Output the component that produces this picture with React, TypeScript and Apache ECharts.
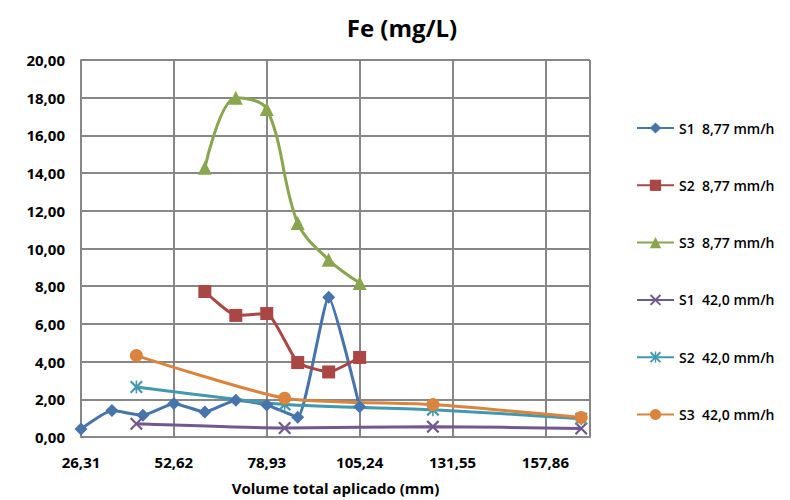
import React, { useEffect, useRef } from "react";
import * as echarts from "echarts";

const seriesNames = [
  "S1  8,77 mm/h",
  "S2  8,77 mm/h",
  "S3  8,77 mm/h",
  "S1  42,0 mm/h",
  "S2  42,0 mm/h",
  "S3  42,0 mm/h",
];

const xS1a = [26.31, 35.08, 43.85, 52.62, 61.39, 70.16, 78.93, 87.7, 96.47, 105.24];
const yS1a = [0.42, 1.4, 1.15, 1.78, 1.32, 1.95, 1.7, 1.05, 7.42, 1.6];

const xS2a = [61.39, 70.16, 78.93, 87.7, 96.47, 105.24];
const yS2a = [7.72, 6.45, 6.55, 3.95, 3.45, 4.22];

const xS3a = [61.39, 70.16, 78.93, 87.7, 96.47, 105.24];
const yS3a = [14.28, 18.0, 17.4, 11.35, 9.4, 8.17];

const x42 = [42, 84, 126, 168];
const yS1b = [0.7, 0.48, 0.55, 0.45];
const yS2b = [2.65, 1.72, 1.45, 0.97];
const yS3b = [4.32, 2.06, 1.72, 1.04];

const xTickMin = 26.31;
const xTickStep = 26.31;

const colors = ["#4674AB", "#AA4643", "#89A54E", "#71588F", "#4198AF", "#DB843D"];

const X_PATH =
  "path://M0,1.2 L1.2,0 L5,3.8 L8.8,0 L10,1.2 L6.2,5 L10,8.8 L8.8,10 L5,6.2 L1.2,10 L0,8.8 L3.8,5 Z";
const STAR_PATH =
  "path://M0,1.2 L1.2,0 L5,3.8 L8.8,0 L10,1.2 L6.2,5 L10,8.8 L8.8,10 L5,6.2 L1.2,10 L0,8.8 L3.8,5 Z M4.4,0 L5.6,0 L5.6,10 L4.4,10 Z";

const zip = (xs: number[], ys: number[]) => xs.map((x, i) => [x, ys[i]]);

const FONT = "Open Sans";
const fmt = (v: number) => v.toFixed(2).replace(".", ",");

export default function App() {
  const ref = useRef<HTMLDivElement>(null);
  useEffect(() => {
    if (!ref.current) return;
    const chart = echarts.init(ref.current, null, { renderer: "svg" });
    const mk = (
      i: number,
      data: number[][],
      symbol: string,
      size: number,
      smooth: number | boolean
    ) => ({
      name: seriesNames[i],
      type: "line",
      data,
      symbol,
      symbolSize: size,
      smooth,
      showAllSymbol: true,
      lineStyle: { color: colors[i], width: 3 },
      itemStyle: { color: colors[i] },
      emphasis: { disabled: true },
    });
    chart.setOption({
      animation: false,
      graphic: [
        {
          type: "text",
          x: 402,
          y: 27,
          style: {
            text: "Fe (mg/L)",
            fontFamily: FONT,
            fontSize: 24,
            fontWeight: "bold",
            fill: "#000",
            align: "center",
            verticalAlign: "middle",
          },
        },
      ],
      legend: {
        orient: "vertical",
        left: 631,
        top: 116,
        itemWidth: 37,
        itemHeight: 14,
        itemGap: 43.3,
        textStyle: { fontFamily: FONT, fontSize: 14, fontWeight: 600, color: "#000" },
        data: seriesNames,
      },
      grid: { left: 81, right: 200, top: 60, bottom: 63, containLabel: false },
      xAxis: {
        type: "value",
        min: xTickMin,
        max: 170.5,
        interval: xTickStep,
        name: "Volume total aplicado (mm)",
        nameLocation: "middle",
        nameGap: 43,
        nameTextStyle: { fontFamily: FONT, fontSize: 15, fontWeight: "bold", color: "#000" },
        axisLine: { show: true, lineStyle: { color: "#878787", width: 2 } },
        axisTick: { show: false },
        axisLabel: {
          margin: 17,
          showMaxLabel: false,
          fontFamily: FONT,
          fontSize: 15,
          fontWeight: "bold",
          color: "#000",
          formatter: (v: number) => {
            const k = (v - xTickMin) / xTickStep;
            return Math.abs(k - Math.round(k)) < 1e-6 ? fmt(v) : "";
          },
        },
        splitLine: { show: true, lineStyle: { color: "#878787", width: 2 } },
      },
      yAxis: {
        type: "value",
        min: 0,
        max: 20,
        interval: 2,
        axisLine: { show: true, lineStyle: { color: "#878787", width: 2 } },
        axisTick: { show: false },
        axisLabel: {
          margin: 16,
          fontFamily: FONT,
          fontSize: 15,
          fontWeight: "bold",
          color: "#000",
          formatter: (v: number) => fmt(v),
        },
        splitLine: { show: true, lineStyle: { color: "#878787", width: 2 } },
      },
      series: [
        mk(0, zip(xS1a, yS1a), "diamond", 13, 0.15),
        mk(1, zip(xS2a, yS2a), "rect", 13, 0.15),
        mk(2, zip(xS3a, yS3a), "triangle", 14, 0.35),
        mk(3, zip(x42, yS1b), X_PATH, 13, 0.2),
        mk(4, zip(x42, yS2b), STAR_PATH, 13, 0.2),
        mk(5, zip(x42, yS3b), "circle", 13, 0.2),
      ],
    });
    return () => chart.dispose();
  }, []);
  return (
    <div
      ref={ref}
      style={{ position: "fixed", left: 0, top: 0, width: 790, height: 500, background: "#fff" }}
    />
  );
}
